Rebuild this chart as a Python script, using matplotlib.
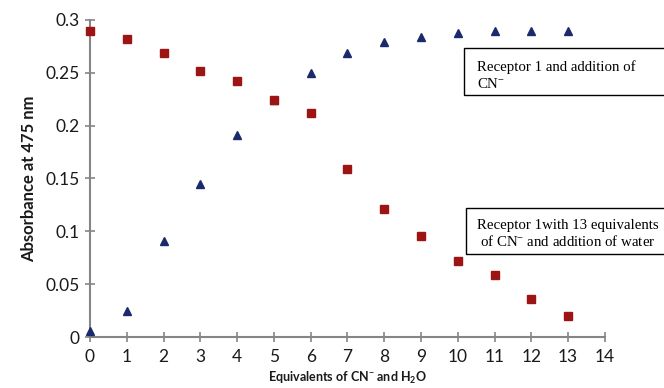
import matplotlib
matplotlib.use("Agg")
import matplotlib.pyplot as plt
from matplotlib.patches import Rectangle

plt.rcParams['font.family'] = ['Lato', 'DejaVu Sans']
plt.rcParams['mathtext.fontset'] = 'custom'
plt.rcParams['mathtext.rm'] = 'Lato'
plt.rcParams['mathtext.bf'] = 'Lato:bold'
plt.rcParams['mathtext.default'] = 'regular'

# equivalents added
equiv = [0, 1, 2, 3, 4, 5, 6, 7, 8, 9, 10, 11, 12, 13]
# receptor 1 + CN- (triangles)
abs_cn = [0.006, 0.025, 0.091, 0.145, 0.191, 0.224, 0.250, 0.269, 0.279,
          0.284, 0.288, 0.290, 0.290, 0.290]
# receptor 1 + 13 eq CN- then water (squares)
abs_water = [0.290, 0.282, 0.269, 0.252, 0.242, 0.224, 0.212, 0.159, 0.121,
             0.096, 0.0715, 0.059, 0.036, 0.020]

xticks = list(range(0, 15))
yticks = [0, 0.05, 0.1, 0.15, 0.2, 0.25, 0.3]
ytick_labels = ['0', '0.05', '0.1', '0.15', '0.2', '0.25', '0.3']

fig = plt.figure(figsize=(6.64, 3.88), dpi=100)
ax = fig.add_axes([0.1355, 0.1314, 0.7756, 0.8171])

ax.plot(equiv, abs_cn, linestyle='none', marker='^', markersize=6,
        color='#1b2a6c', clip_on=False, zorder=3)
ax.plot(equiv, abs_water, linestyle='none', marker='s', markersize=6,
        color='#9c1414', clip_on=False, zorder=4)

ax.set_xlim(0, 14)
ax.set_ylim(0, 0.3)
ax.set_xticks(xticks)
ax.set_yticks(yticks)
ax.set_yticklabels(ytick_labels)

for side in ('top', 'right'):
    ax.spines[side].set_visible(False)
for side in ('left', 'bottom'):
    ax.spines[side].set_color('#858585')
    ax.spines[side].set_linewidth(1.5)
ax.tick_params(axis='both', direction='inout', length=7, width=1.2,
               color='#858585', labelsize=12.5, labelcolor='#1a1a1a')
ax.tick_params(axis='x', pad=5)
ax.tick_params(axis='y', pad=4)

ax.set_ylabel('Absorbance at 475 nm', fontsize=12, fontweight='bold',
              color='#1a1a1a', labelpad=6)
ax.set_xlabel(r'Equivalents of CN$^{-}$ and H$_{2}$O', fontsize=9,
              fontweight='bold', color='#1a1a1a', labelpad=4)

# annotation boxes, running off the right edge
serif = ['Liberation Serif', 'DejaVu Serif']
fig.patches.append(Rectangle((464 / 664, 1 - 95 / 388), 240 / 664, 47 / 388,
                             transform=fig.transFigure, fill=False,
                             edgecolor='black', linewidth=1.0))
fig.text(477 / 664, 1 - 71 / 388, 'Receptor 1 and addition of',
         family=serif, fontsize=10.7, ha='left', va='baseline')
fig.text(477 / 664, 1 - 88 / 388, r'CN$^{-}$', family=serif, fontsize=10.7,
         ha='left', va='baseline', math_fontfamily='stix')

fig.patches.append(Rectangle((466 / 664, 1 - 254 / 388), 240 / 664, 46 / 388,
                             transform=fig.transFigure, fill=False,
                             edgecolor='black', linewidth=1.0))
fig.text(568 / 664, 1 - 229 / 388, 'Receptor 1with 13 equivalents',
         family=serif, fontsize=10.7, ha='center', va='baseline')
fig.text(568 / 664, 1 - 246 / 388, r'of CN$^{-}$ and addition of water',
         family=serif, fontsize=10.7, ha='center', va='baseline',
         math_fontfamily='stix')

fig.savefig('out.png', dpi=100)
